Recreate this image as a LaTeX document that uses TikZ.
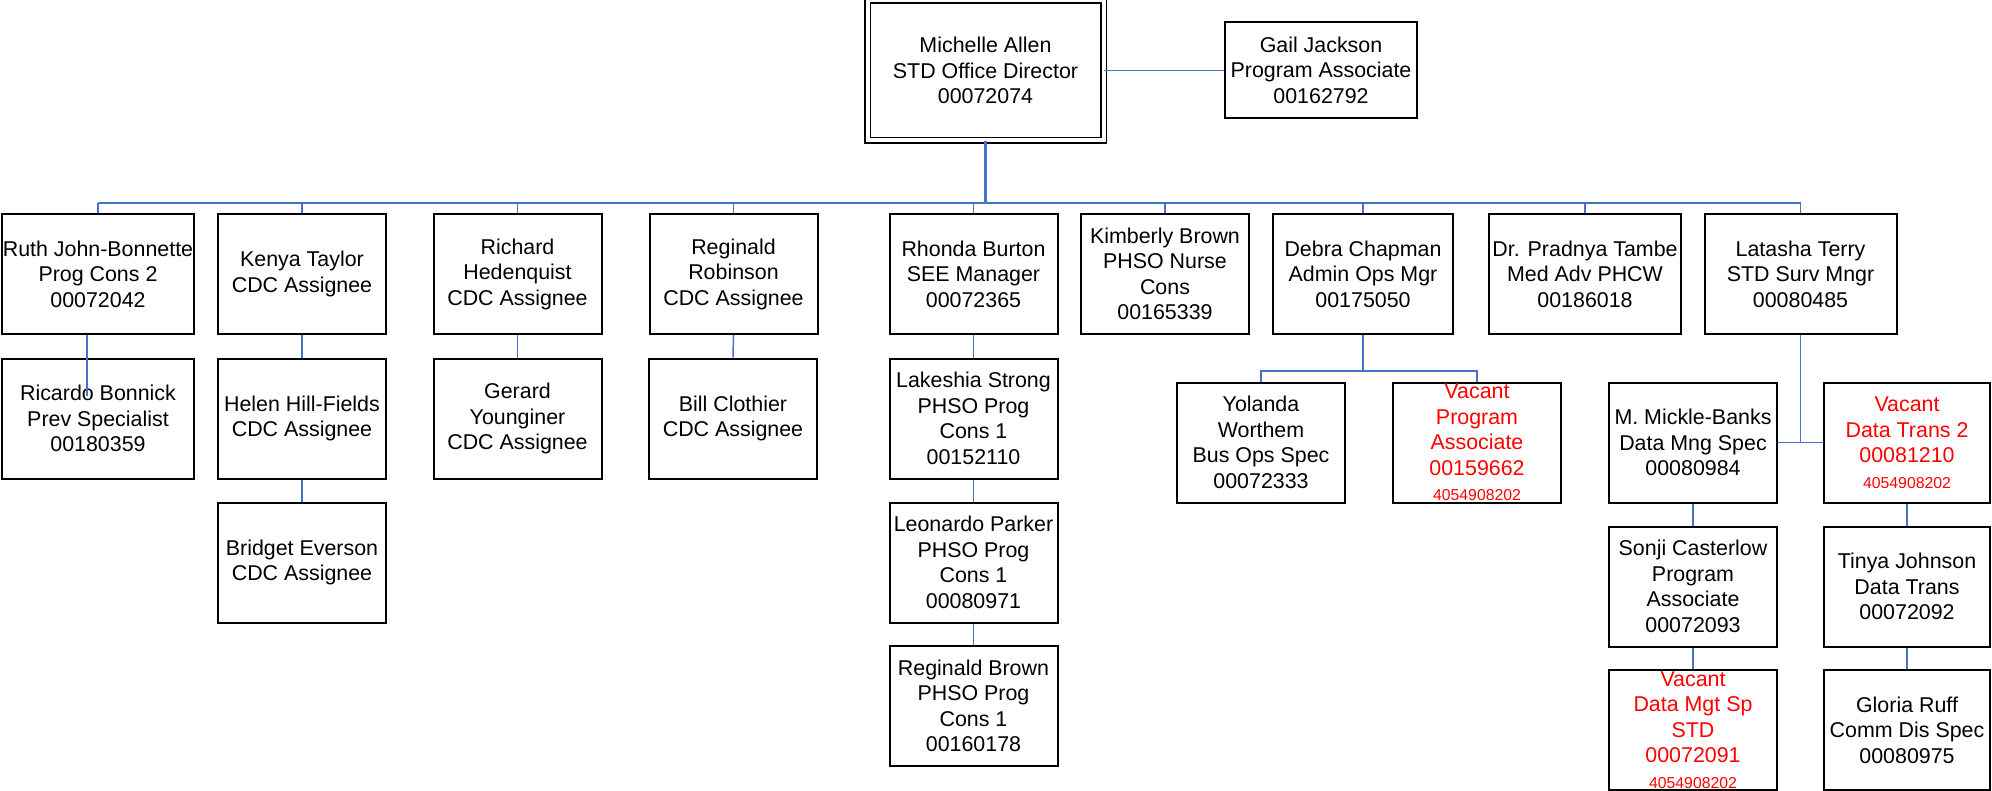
\documentclass[tikz,border=0pt]{standalone}
\usepackage{fontspec}
\setmainfont{Liberation Sans}
\usepackage{tikz}
\definecolor{linkBlue}{HTML}{4472C4}
\definecolor{vacantRed}{HTML}{FF0000}
\newcommand{\posnum}[1]{{\fontsize{7.9}{9.5}\selectfont #1}}
\tikzset{
  orgBox/.style={draw=black, line width=1pt, fill=white, align=center, inner sep=0pt,
    minimum height=60pt, font=\fontsize{10.7}{12.75}\selectfont},
  headBox/.style={orgBox, double, double distance=2pt, line width=0.75pt,
    minimum width=118pt, minimum height=70pt},
  vacantBox/.style={orgBox, text=vacantRed},
  wNarrow/.style={minimum width=84pt},
  wMid/.style={minimum width=90pt},
  wWide/.style={minimum width=96pt},
  link/.style={draw=linkBlue, line width=0.75pt},
  trunk/.style={draw=linkBlue, line width=1.4pt}
}

\begin{document}
\begin{tikzpicture}[x=0.5pt, y=-0.5pt]
  \useasboundingbox (0,0) rectangle (1992,791);

  % levels
  \coordinate (bus) at (0,203);
  \coordinate (dsplit) at (0,371);
  \coordinate (rjb) at (87,396);

  % director and associate
  \node[headBox] (director) at (985.5,70.5) {Michelle Allen\\STD Office Director\\00072074};
  \node[orgBox, wWide, minimum height=48pt] (gail) at (1321,70) {Gail Jackson\\Program Associate\\00162792};

  % first row
  \node[orgBox, wWide] (ruth) at (98,274) {Ruth John-Bonnette\\Prog Cons 2\\00072042};
  \node[orgBox, wNarrow] (kenya) at (302,274) {Kenya Taylor\\CDC Assignee};
  \node[orgBox, wNarrow] (richard) at (517.5,274) {Richard\\Hedenquist\\CDC Assignee};
  \node[orgBox, wNarrow] (reginald) at (733.5,274) {Reginald\\Robinson\\CDC Assignee};
  \node[orgBox, wNarrow] (rhonda) at (973.5,274) {Rhonda Burton\\SEE Manager\\00072365};
  \node[orgBox, wNarrow] (kimberly) at (1165,274) {Kimberly Brown\\PHSO Nurse\\Cons\\00165339};
  \node[orgBox, wMid] (debra) at (1363,274) {Debra Chapman\\Admin Ops Mgr\\00175050};
  \node[orgBox, wWide] (pradnya) at (1585,274) {Dr. Pradnya Tambe\\Med Adv PHCW\\00186018};
  \node[orgBox, wWide] (latasha) at (1800.5,274) {Latasha Terry\\STD Surv Mngr\\00080485};

  % second row
  \node[orgBox, wWide] (ricardo) at (98,418.5) {Ricardo Bonnick\\Prev Specialist\\00180359};
  \node[orgBox, wNarrow] (helen) at (302,418.5) {Helen Hill-Fields\\CDC Assignee};
  \node[orgBox, wNarrow] (gerard) at (517.5,418.5) {Gerard\\Younginer\\CDC Assignee};
  \node[orgBox, wNarrow] (bill) at (733,418.5) {Bill Clothier\\CDC Assignee};
  \node[orgBox, wNarrow] (lakeshia) at (973.5,418.5) {Lakeshia Strong\\PHSO Prog\\Cons 1\\00152110};

  % lower rows
  \node[orgBox, wNarrow] (bridget) at (302,562.5) {Bridget Everson\\CDC Assignee};
  \node[orgBox, wNarrow] (leonardo) at (973.5,562.5) {Leonardo Parker\\PHSO Prog\\Cons 1\\00080971};
  \node[orgBox, wNarrow] (regbrown) at (973.5,706) {Reginald Brown\\PHSO Prog\\Cons 1\\00160178};

  % admin and surveillance units
  \node[orgBox, wNarrow] (yolanda) at (1261,442.5) {Yolanda\\Worthem\\Bus Ops Spec\\00072333};
  \node[vacantBox, wNarrow] (vacprog) at (1477,442.5) {Vacant\\Program\\Associate\\00159662\\\posnum{4054908202}};
  \node[orgBox, wNarrow] (mickle) at (1693,442.5) {M. Mickle-Banks\\Data Mng Spec\\00080984};
  \node[vacantBox, minimum width=83pt] (vacdt) at (1907,442.5) {Vacant\\Data Trans 2\\00081210\\\posnum{4054908202}};
  \node[orgBox, wNarrow] (sonji) at (1693,586.5) {Sonji Casterlow\\Program\\Associate\\00072093};
  \node[orgBox, minimum width=83pt] (tinya) at (1907,586.5) {Tinya Johnson\\Data Trans\\00072092};
  \node[vacantBox, wNarrow] (vacdms) at (1693,730) {Vacant\\Data Mgt Sp\\STD\\00072091\\\posnum{4054908202}};
  \node[orgBox, minimum width=83pt] (gloria) at (1907,730) {Gloria Ruff\\Comm Dis Spec\\00080975};

  % connectors
  \draw[link] (director.east) -- (director.east -| gail.west);
  \draw[trunk] (director.south) -- (director.south |- bus);
  \draw[link, line width=1pt] (ruth.north |- bus) -- (latasha.north |- bus);
  \foreach \n in {ruth,kenya,richard,reginald,rhonda,kimberly,debra,pradnya,latasha}
    \draw[link] (\n.north |- bus) -- (\n.north);
  \draw[link] (kenya) -- (helen) -- (bridget);
  \draw[link] (richard) -- (gerard);
  \draw[link] (reginald.south) -- (bill.north);
  \draw[link] (rhonda) -- (lakeshia) -- (leonardo) -- (regbrown);
  \draw[link] (debra.south) -- (debra.south |- dsplit);
  \draw[link] (yolanda.north) -- (yolanda.north |- dsplit) -- (vacprog.north |- dsplit) -- (vacprog.north);
  \draw[link] (latasha.south) -- (latasha.south |- mickle.east);
  \draw[link] (mickle.east) -- (vacdt.west);
  \draw[link] (mickle) -- (sonji) -- (vacdms);
  \draw[link] (vacdt) -- (tinya) -- (gloria);
  \draw[link] (ruth.south -| rjb) -- (rjb);
\end{tikzpicture}
\end{document}
